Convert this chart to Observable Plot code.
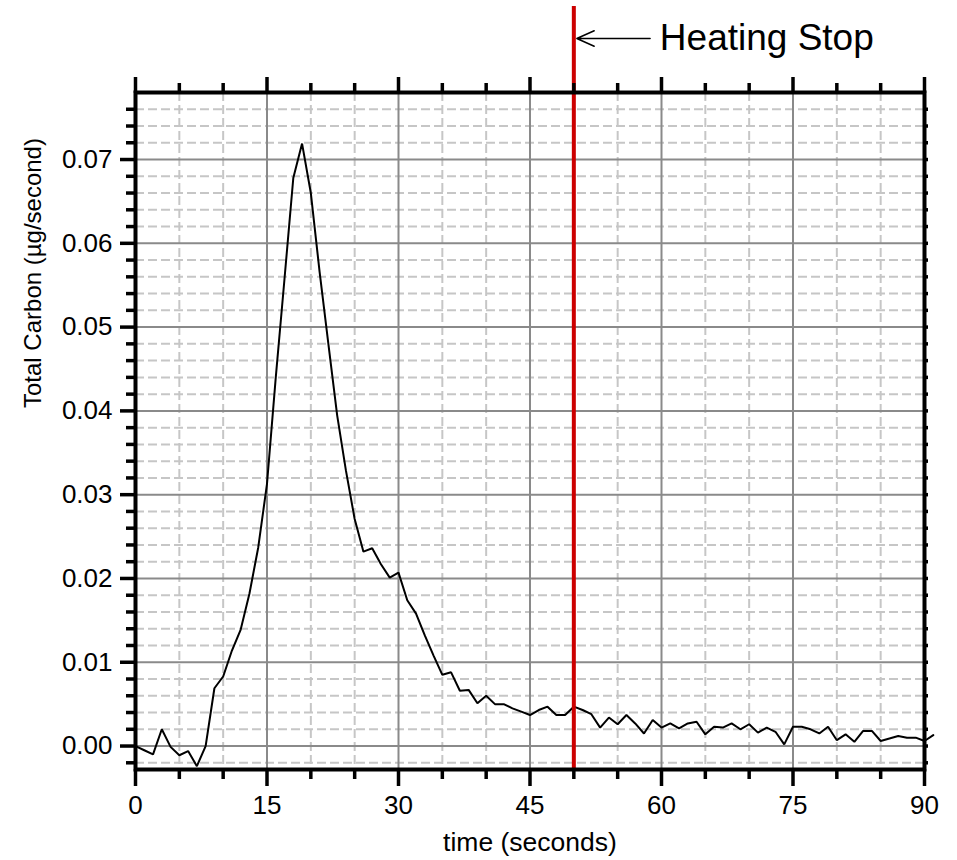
<!DOCTYPE html>
<html><head><meta charset="utf-8">
<script src="https://cdn.jsdelivr.net/npm/d3@7"></script>
<script src="https://cdn.jsdelivr.net/npm/@observablehq/plot@0.6"></script>
<style>html,body{margin:0;padding:0;background:#fff}svg{display:block}</style>
</head><body><div id="chart"></div>
<script>
// ---- data ----
const time = [0,1,2,3,4,5,6,7,8,9,10,11,12,13,14,15,16,17,18,19,20,21,22,23,24,25,26,27,28,29,
  30,31,32,33,34,35,36,37,38,39,40,41,42,43,44,45,46,47,48,49,50,51,52,53,54,55,56,57,58,59,
  60,61,62,63,64,65,66,67,68,69,70,71,72,73,74,75,76,77,78,79,80,81,82,83,84,85,86,87,88,89,90,91];
const carbon = [
  0.0000,-0.0005,-0.0010,0.0020,-0.0001,-0.0011,-0.0006,-0.0024,0.0000,0.0069,
  0.0083,0.0114,0.0139,0.0182,0.0237,0.0313,0.0440,0.0558,0.0678,0.0719,
  0.0660,0.0566,0.0480,0.0395,0.0329,0.0271,0.0232,0.0236,0.0217,0.0201,
  0.0207,0.0174,0.0158,0.0132,0.0108,0.0085,0.0088,0.0066,0.0067,0.0051,
  0.0060,0.0050,0.0050,0.0045,0.0041,0.0037,0.0043,0.0047,0.0037,0.0037,
  0.0047,0.0043,0.0038,0.0022,0.0034,0.0026,0.0037,0.0027,0.0015,0.0031,
  0.0022,0.0027,0.0021,0.0027,0.0029,0.0014,0.0023,0.0022,0.0027,0.0020,
  0.0026,0.0016,0.0022,0.0017,0.0002,0.0023,0.0023,0.0020,0.0015,0.0023,
  0.0007,0.0014,0.0005,0.0018,0.0018,0.0006,0.0009,0.0012,0.0010,0.0010,
  0.0006,0.0013];
const xDomain = [0, 90];
const yDomain = [-0.0028, 0.078];
const xMajorTicks = [0, 15, 30, 45, 60, 75, 90];
const xMinorTicks = [5, 10, 20, 25, 35, 40, 50, 55, 65, 70, 80, 85];
const yMajorTicks = [0, 0.01, 0.02, 0.03, 0.04, 0.05, 0.06, 0.07];
const yMinorTicks = [-0.002, 0.002, 0.004, 0.006, 0.008, 0.012, 0.014, 0.016, 0.018,
  0.022, 0.024, 0.026, 0.028, 0.032, 0.034, 0.036, 0.038, 0.042, 0.044, 0.046, 0.048,
  0.052, 0.054, 0.056, 0.058, 0.062, 0.064, 0.066, 0.068, 0.072, 0.074, 0.076];
const heatingStop = 50;
const arrowTail = 58.7;
const annotationLabel = "Heating Stop";
const xTitle = "time (seconds)";
const yTitle = "Total Carbon (\u00b5g/second)";

const data = time.map((t, i) => ({t, v: carbon[i]}));
const noLabel = () => "";
const font = "'Liberation Sans', Arial, Helvetica, sans-serif";

const chart = Plot.plot({
  width: 957,
  height: 860,
  marginLeft: 135,
  marginRight: 33,
  marginTop: 92,
  marginBottom: 91,
  style: {fontFamily: font, fontSize: "24px", background: "#fff", color: "black"},
  x: {domain: xDomain, axis: null},
  y: {domain: yDomain, axis: null},
  marks: [
    // minor dashed grid
    Plot.gridX(xMinorTicks, {stroke: "#c6c6c6", strokeOpacity: 1, strokeWidth: 2, strokeDasharray: "9,4"}),
    Plot.gridY(yMinorTicks, {stroke: "#c6c6c6", strokeOpacity: 1, strokeWidth: 2, strokeDasharray: "9,4"}),
    // major solid grid
    Plot.gridX(xMajorTicks, {stroke: "#8a8a8a", strokeOpacity: 1, strokeWidth: 2}),
    Plot.gridY(yMajorTicks, {stroke: "#8a8a8a", strokeOpacity: 1, strokeWidth: 2}),
    // data
    Plot.line(data, {x: "t", y: "v", stroke: "black", strokeWidth: 2, strokeLinejoin: "miter"}),
    // heating stop marker
    Plot.ruleX([heatingStop], {stroke: "#cc0000", strokeWidth: 4, insetTop: -86}),
    Plot.arrow([{a: arrowTail, b: heatingStop}], {
      x1: "a", x2: "b", y1: () => yDomain[1], y2: () => yDomain[1], dy: -54,
      stroke: "black", strokeWidth: 1.5, headLength: 19, headAngle: 48, insetEnd: 3, bend: 0
    }),
    Plot.text([annotationLabel], {x: () => heatingStop, y: () => yDomain[1], dy: -54, dx: 86,
      text: d => d, textAnchor: "start", fontSize: 37, fill: "black"}),
    // frame
    Plot.frame({stroke: "black", strokeWidth: 4}),
    // left axis
    Plot.axisY(yMajorTicks, {anchor: "left", tickSize: 15, tickPadding: 8, strokeWidth: 3.5,
      tickFormat: d3.format(".2f"), fontSize: 26, label: null, color: "black"}),
    Plot.axisY(yMinorTicks, {anchor: "left", tickSize: 9, strokeWidth: 3.5, tickFormat: noLabel, label: null, color: "black"}),
    // right axis
    Plot.axisY(yMajorTicks.concat(yMinorTicks), {anchor: "right", tickSize: 3, strokeWidth: 3.5, tickFormat: noLabel, label: null, color: "black"}),
    // bottom axis
    Plot.axisX(xMajorTicks, {anchor: "bottom", tickSize: 17, tickPadding: 9, strokeWidth: 3.5,
      tickFormat: d => String(d), fontSize: 26, label: null, color: "black"}),
    Plot.axisX(xMinorTicks, {anchor: "bottom", tickSize: 10, strokeWidth: 3.5, tickFormat: noLabel, label: null, color: "black"}),
    // top axis
    Plot.axisX(xMajorTicks, {anchor: "top", tickSize: 16, strokeWidth: 3.5, tickFormat: noLabel, label: null, color: "black"}),
    Plot.axisX(xMinorTicks, {anchor: "top", tickSize: 10, strokeWidth: 3.5, tickFormat: noLabel, label: null, color: "black"}),
    // axis titles
    Plot.text([xTitle], {frameAnchor: "bottom", dy: 81, text: d => d, fontSize: 26.5, fill: "black"}),
    Plot.text([yTitle], {frameAnchor: "left", dx: -102, dy: -23, rotate: -90, text: d => d, fontSize: 24, fill: "black"})
  ]
});
document.getElementById("chart").appendChild(chart);
</script>
</body></html>
